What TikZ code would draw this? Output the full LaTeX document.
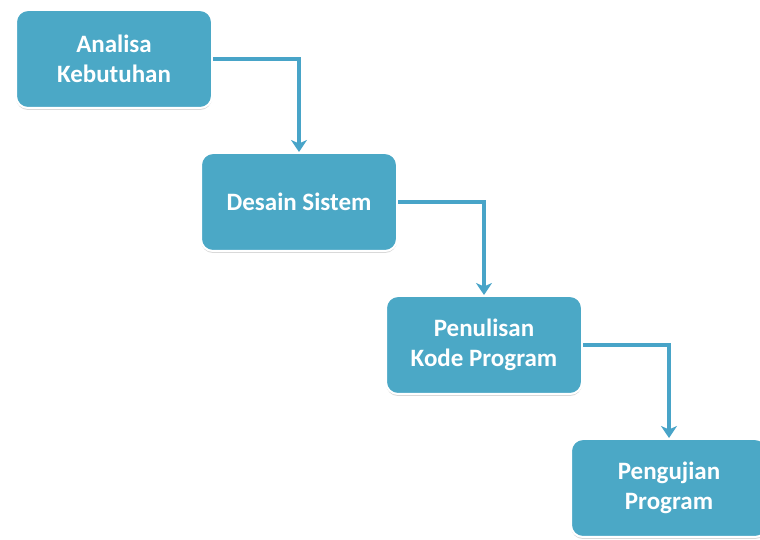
\documentclass[tikz,border=0pt]{standalone}
\usepackage{fontspec}
\setmainfont{Carlito}
\usetikzlibrary{arrows.meta, positioning, shadows}
\definecolor{StageBlue}{RGB}{75,168,198}
\definecolor{FlowBlue}{RGB}{72,164,200}
\tikzset{%
  stage/.style={%
    rectangle,%
    rounded corners=12pt,%
    draw=white,%
    line width=2pt,%
    fill=StageBlue,%
    minimum width=196pt,%
    minimum height=98pt,%
    text=white,%
    font={\fontsize{25}{30}\selectfont\bfseries},%
    align=center,%
    drop shadow={shadow xshift=0pt, shadow yshift=-2pt, opacity=0.3}%
  },
  flow/.style={%
    draw=FlowBlue,%
    line width=3.5pt,%
    line join=miter,%
    -{Stealth[length=12pt, width=16pt, inset=3.5pt]}%
  },
}
\begin{document}
\begin{tikzpicture}[x=1pt, y=1pt]

    \useasboundingbox (0,0) rectangle (760,540);

    \node [stage] (Analisa) at (114,481) {Analisa\\Kebutuhan};
    \node [stage, below right = 43 and -13 of Analisa] (Desain) {Desain Sistem};
    \node [stage, below right = 43 and -13 of Desain] (Kode) {Penulisan\\Kode Program};
    \node [stage, below right = 43 and -13 of Kode] (Uji) {Pengujian\\Program};

    \draw [flow] (Analisa.east) -| (Desain.north);
    \draw [flow] (Desain.east) -| (Kode.north);
    \draw [flow] (Kode.east) -| (Uji.north);

  \end{tikzpicture}
\end{document}
